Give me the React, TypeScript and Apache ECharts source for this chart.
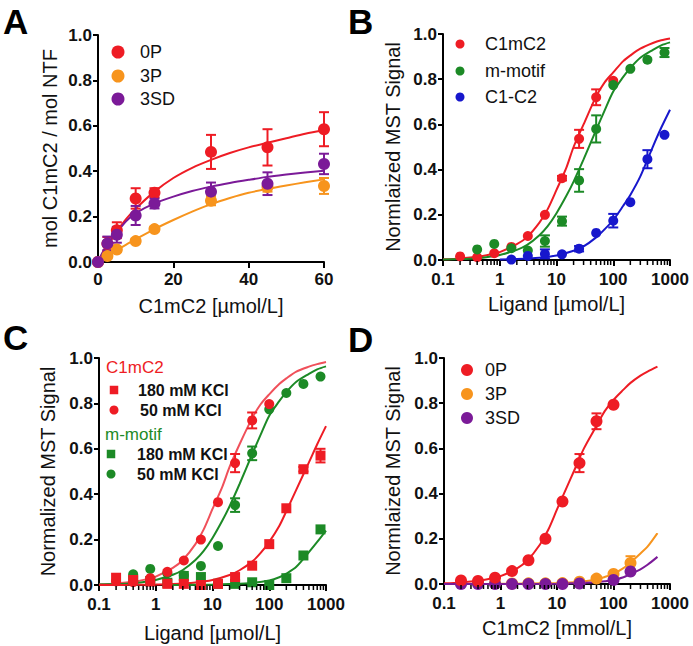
import React, { useEffect, useRef } from "react";
import * as echarts from "echarts";

// ---------- colours ----------
const RED = "#ee1c24";
const RED_LIGHT = "#f0505a";
const ORANGE = "#f7941d";
const PURPLE = "#7b1a98";
const GREEN = "#1c8a26";
const BLUE = "#1717cc";
const FONT = "Liberation Sans, Arial, Helvetica, sans-serif";

// ---------- panel A ----------
const aConc = [0, 2.5, 5, 10, 15, 30, 45, 60];
const a0P = [0, 0.08, 0.14, 0.28, 0.305, 0.485, 0.505, 0.585];
const a0PErr = [0, 0.03, 0.035, 0.045, 0.02, 0.075, 0.08, 0.075];
const a3P = [0, 0.026, 0.055, 0.092, 0.145, 0.27, 0.33, 0.335];
const a3PErr = [0, 0.01, 0.01, 0.01, 0.01, 0.02, 0.02, 0.035];
const a3SD = [0, 0.082, 0.12, 0.205, 0.258, 0.31, 0.345, 0.432];
const a3SDErr = [0, 0.03, 0.035, 0.042, 0.022, 0.04, 0.05, 0.045];
const aFitX = [0, 1, 2.5, 5, 7.5, 10, 15, 20, 25, 30, 35, 40, 45, 50, 55, 60];
const aFit0P = [0, 0.03, 0.07, 0.135, 0.19, 0.235, 0.31, 0.37, 0.415, 0.45, 0.48, 0.505, 0.525, 0.545, 0.565, 0.58];
const aFit3P = [0, 0.011, 0.027, 0.052, 0.077, 0.1, 0.145, 0.185, 0.222, 0.255, 0.282, 0.305, 0.322, 0.337, 0.351, 0.364];
const aFit3SD = [0, 0.035, 0.08, 0.13, 0.18, 0.215, 0.258, 0.288, 0.313, 0.332, 0.348, 0.362, 0.375, 0.385, 0.394, 0.402];

// ---------- two-fold dilution series (µmol/L) ----------
const dilution = [0.2, 0.4, 0.8, 1.6, 3.125, 6.25, 12.5, 25, 50, 100, 200, 400, 800];

// ---------- panel B ----------
const bRedX = dilution.slice(0, 10);
const bRed = [0.016, 0.012, 0.03, 0.058, 0.106, 0.2, 0.362, 0.536, 0.72, 0.793];
const bRedErr = [0, 0, 0, 0, 0, 0, 0.01, 0.04, 0.035, 0];
const bGreenX = dilution.slice(1);
const bGreen = [0.047, 0.071, 0.052, 0.042, 0.084, 0.172, 0.352, 0.58, 0.774, 0.846, 0.886, 0.918];
const bGreenErr = [0, 0, 0, 0, 0.025, 0.02, 0.05, 0.06, 0, 0, 0, 0.02];
const bBlueX = dilution.slice(3);
const bBlue = [0.002, 0.018, 0.027, 0.025, 0.05, 0.12, 0.174, 0.256, 0.446, 0.554];
const bBlueErr = [0, 0, 0.02, 0, 0.012, 0, 0.03, 0, 0.04, 0];
const bFitX = [0.1, 0.2, 0.3, 0.5, 0.7, 1, 2, 3, 5, 7, 10, 15, 20, 30, 50, 70, 100, 150, 200, 300, 500, 700, 1000];
const bFitRed = [0.003, 0.007, 0.011, 0.018, 0.025, 0.035, 0.07, 0.1, 0.165, 0.225, 0.31, 0.41, 0.5, 0.6, 0.724, 0.785, 0.83, 0.88, 0.905, 0.935, 0.96, 0.972, 0.98];
const bFitGreen = [0.002, 0.004, 0.006, 0.01, 0.015, 0.022, 0.045, 0.066, 0.11, 0.15, 0.207, 0.285, 0.347, 0.445, 0.576, 0.66, 0.746, 0.81, 0.85, 0.895, 0.93, 0.95, 0.963];
const bFitBlueX = [1, 2, 5, 10, 20, 30, 50, 70, 100, 150, 200, 300, 500, 700, 1000];
const bFitBlue = [0.002, 0.004, 0.01, 0.02, 0.041, 0.06, 0.1, 0.135, 0.177, 0.24, 0.288, 0.37, 0.502, 0.585, 0.665];

// ---------- panel C ----------
const cRed180X = dilution;
const cRed180 = [0.032, 0.022, 0.015, 0.005, 0.005, 0.0, 0.005, 0.035, 0.085, 0.18, 0.338, 0.51, 0.57];
const cRed180Err = [0, 0, 0, 0, 0, 0, 0, 0, 0, 0, 0, 0.01, 0.03];
const cRed50X = dilution.slice(0, 10);
const cRed50 = [0.016, 0.012, 0.03, 0.058, 0.108, 0.2, 0.365, 0.537, 0.725, 0.797];
const cRed50Err = [0, 0, 0, 0, 0, 0, 0, 0.04, 0.035, 0];
const cGreen180X = dilution.slice(1);
const cGreen180 = [0.02, 0.018, 0.01, 0.04, 0.035, 0.005, 0.005, 0.012, 0.0, 0.03, 0.13, 0.245];
const cGreen50X = dilution.slice(1);
const cGreen50 = [0.047, 0.071, 0.052, 0.042, 0.084, 0.172, 0.352, 0.58, 0.774, 0.846, 0.886, 0.918];
const cGreen50Err = [0, 0, 0, 0, 0, 0, 0.03, 0.03, 0, 0, 0, 0];
const cFit50Red = [0.003, 0.007, 0.011, 0.018, 0.026, 0.037, 0.075, 0.11, 0.18, 0.245, 0.335, 0.435, 0.52, 0.62, 0.735, 0.795, 0.84, 0.885, 0.91, 0.94, 0.962, 0.973, 0.982];
const cFit50Green = [0.002, 0.004, 0.006, 0.01, 0.015, 0.022, 0.045, 0.066, 0.11, 0.15, 0.207, 0.285, 0.347, 0.445, 0.576, 0.66, 0.746, 0.81, 0.85, 0.895, 0.93, 0.95, 0.963];
const cFit180RedX = [0.1, 0.5, 1, 2, 5, 10, 20, 30, 50, 70, 100, 150, 200, 300, 500, 700, 1000];
const cFit180Red = [0, 0.001, 0.002, 0.004, 0.011, 0.022, 0.044, 0.065, 0.103, 0.14, 0.19, 0.26, 0.325, 0.42, 0.54, 0.62, 0.7];
const cFit180GreenX = [2, 5, 10, 20, 50, 100, 150, 200, 300, 500, 700, 1000];
const cFit180Green = [0, 0.001, 0.002, 0.004, 0.009, 0.02, 0.034, 0.05, 0.08, 0.145, 0.19, 0.24];

// ---------- panel D ----------
const dRedX = dilution.slice(0, 10);
const dRed = [0.016, 0.013, 0.028, 0.057, 0.105, 0.2, 0.365, 0.535, 0.72, 0.793];
const dRedErr = [0, 0, 0, 0, 0, 0, 0, 0.04, 0.035, 0];
const d3PX = dilution.slice(0, 11);
const d3P = [0.004, 0.004, 0.003, 0.002, 0.003, 0.003, 0.004, 0.01, 0.024, 0.044, 0.093];
const d3PErr = [0, 0, 0, 0, 0, 0, 0, 0, 0, 0, 0.03];
const d3SDX = [0.2, 0.4, 0.8, 1.6, 3.125, 6.25, 12.5, 25, 100, 200];
const d3SD = [0, 0, 0, 0, 0, 0, 0, 0.002, 0.018, 0.055];
const dFitX = [0.1, 0.2, 0.3, 0.5, 0.7, 1, 2, 3, 5, 7, 10, 15, 20, 30, 50, 70, 100, 150, 200, 300, 400, 600];
const dFitRed = [0.003, 0.007, 0.011, 0.018, 0.025, 0.035, 0.07, 0.105, 0.175, 0.24, 0.33, 0.43, 0.5, 0.6, 0.7, 0.765, 0.815, 0.86, 0.89, 0.922, 0.94, 0.962];
const dFitLowX = [0.1, 1, 10, 20, 50, 70, 100, 150, 200, 300, 400, 600];
const dFit3P = [0, 0.001, 0.004, 0.008, 0.02, 0.031, 0.045, 0.07, 0.095, 0.135, 0.165, 0.225];
const dFit3SD = [0, 0, 0.001, 0.003, 0.008, 0.012, 0.018, 0.03, 0.045, 0.065, 0.085, 0.12];

// ---------- axis ticks ----------
const yTicks = [0, 0.2, 0.4, 0.6, 0.8, 1.0];
const minorLogTicks = [
  0.2, 0.3, 0.4, 0.5, 0.6, 0.7, 0.8, 0.9,
  2, 3, 4, 5, 6, 7, 8, 9,
  20, 30, 40, 50, 60, 70, 80, 90,
  200, 300, 400, 500, 600, 700, 800, 900,
];

// ---------- helpers ----------
const pairs = (xs: number[], ys: number[]) => ys.map((y, i) => [xs[i], y]);
const errTriples = (xs: number[], ys: number[], es: number[]) =>
  ys.map((y, i) => [xs[i], y, es[i]]).filter((d) => d[2] > 0);

function scatter(gi: number, xs: number[], ys: number[], color: string, symbol: string, size: number, z = 5) {
  return {
    type: "scatter",
    xAxisIndex: gi,
    yAxisIndex: gi,
    data: pairs(xs, ys),
    symbol,
    symbolSize: size,
    itemStyle: { color, opacity: 1 },
    silent: true,
    z,
  };
}

function errorBars(gi: number, xs: number[], ys: number[], es: number[], color: string, z = 4) {
  return {
    type: "custom",
    xAxisIndex: gi,
    yAxisIndex: gi,
    data: errTriples(xs, ys, es),
    encode: { x: 0, y: 1 },
    silent: true,
    z,
    renderItem: (_p: any, api: any) => {
      const x = api.value(0);
      const y = api.value(1);
      const e = api.value(2);
      const top = api.coord([x, y + e]);
      const bot = api.coord([x, Math.max(0, y - e)]);
      const cap = 5;
      const st = { stroke: color, lineWidth: 2 };
      return {
        type: "group",
        children: [
          { type: "line", shape: { x1: top[0], y1: top[1], x2: bot[0], y2: bot[1] }, style: st },
          { type: "line", shape: { x1: top[0] - cap, y1: top[1], x2: top[0] + cap, y2: top[1] }, style: st },
          { type: "line", shape: { x1: bot[0] - cap, y1: bot[1], x2: bot[0] + cap, y2: bot[1] }, style: st },
        ],
      };
    },
  };
}

function curve(gi: number, xs: number[], ys: number[], color: string, z = 3) {
  return {
    type: "line",
    xAxisIndex: gi,
    yAxisIndex: gi,
    data: pairs(xs, ys),
    smooth: 0.3,
    showSymbol: false,
    symbol: "none",
    lineStyle: { color, width: 2 },
    silent: true,
    z,
  };
}

function minorTicks(gi: number) {
  return {
    type: "custom",
    xAxisIndex: gi,
    yAxisIndex: gi,
    data: minorLogTicks.map((v) => [v, 0]),
    encode: { x: 0, y: 1 },
    silent: true,
    clip: false,
    z: 6,
    renderItem: (_p: any, api: any) => {
      const c = api.coord([api.value(0), 0]);
      return {
        type: "line",
        shape: { x1: c[0], y1: c[1] + 1, x2: c[0], y2: c[1] + 5 },
        style: { stroke: "#000", lineWidth: 1.5 },
      };
    },
  };
}

const axisLine = { lineStyle: { color: "#000", width: 2 } };
const axisTick = { length: 6, lineStyle: { color: "#000", width: 2 } };
const tickLabel = (margin: number) => ({
  color: "#111",
  fontWeight: "bold",
  fontSize: 17,
  fontFamily: FONT,
  margin,
});
const nameStyle = { color: "#111", fontSize: 20, fontFamily: FONT };

function logX(gi: number, name: string, gap: number) {
  return {
    gridIndex: gi,
    type: "log",
    logBase: 10,
    min: 0.1,
    max: 1000,
    axisLine,
    axisTick,
    splitLine: { show: false },
    axisLabel: { ...tickLabel(11), formatter: (v: number) => String(+Number(v).toPrecision(4)) },
    name,
    nameLocation: "middle",
    nameGap: gap,
    nameTextStyle: nameStyle,
  };
}

function valY(gi: number, name: string, gap: number) {
  return {
    gridIndex: gi,
    type: "value",
    min: yTicks[0],
    max: yTicks[yTicks.length - 1],
    interval: 0.2,
    axisLine,
    axisTick: { ...axisTick, length: 5 },
    splitLine: { show: false },
    axisLabel: { ...tickLabel(6), formatter: (v: number) => v.toFixed(1) },
    name,
    nameLocation: "middle",
    nameGap: gap,
    nameTextStyle: nameStyle,
  };
}

// ---------- legends & panel letters (graphic) ----------
const letter = (t: string, x: number, y: number) => ({
  type: "text",
  left: x,
  top: y,
  style: { text: t, fontSize: 35, fontWeight: "bold", fontFamily: FONT, fill: "#000" },
});
const legCircle = (x: number, y: number, r: number, color: string) => ({
  type: "circle",
  shape: { cx: x, cy: y, r },
  style: { fill: color },
});
const legRect = (x: number, y: number, s: number, color: string) => ({
  type: "rect",
  shape: { x: x - s / 2, y: y - s / 2, width: s, height: s },
  style: { fill: color },
});
const legText = (t: string, x: number, y: number, size = 18, weight = "normal", color = "#111") => ({
  type: "text",
  x,
  y,
  style: { text: t, fontSize: size, fontWeight: weight, fontFamily: FONT, fill: color, verticalAlign: "middle", align: "left" },
});

const graphic = [
  letter("A", 3, 4),
  letter("B", 348, 4),
  letter("C", 3, 320),
  letter("D", 348, 322),
  // A legend
  legCircle(118, 52, 6.5, RED), legText("0P", 140, 52),
  legCircle(118, 76, 6.5, ORANGE), legText("3P", 140, 76),
  legCircle(118, 99, 6.5, PURPLE), legText("3SD", 140, 99),
  // B legend
  legCircle(460, 44, 4.5, RED), legText("C1mC2", 485, 44),
  legCircle(460, 71, 4.5, GREEN), legText("m-motif", 485, 71),
  legCircle(460, 97, 4.5, BLUE), legText("C1-C2", 485, 97),
  // C legend
  legText("C1mC2", 106, 367, 17, "normal", RED),
  legRect(114, 390, 8.5, RED), legText("180 mM KCl", 138, 390, 16, "bold"),
  legCircle(114, 410, 4.5, RED), legText("50 mM KCl", 140, 410, 16, "bold"),
  legText("m-motif", 105, 434, 17, "normal", GREEN),
  legRect(111, 454, 8.5, GREEN), legText("180 mM KCl", 137, 454, 16, "bold"),
  legCircle(111, 474, 4.5, GREEN), legText("50 mM KCl", 137, 474, 16, "bold"),
  // D legend
  legCircle(467, 370, 6, RED), legText("0P", 485, 370),
  legCircle(467, 394, 6, ORANGE), legText("3P", 485, 394),
  legCircle(467, 418, 6, PURPLE), legText("3SD", 485, 418),
];

const option: any = {
  animation: false,
  backgroundColor: "#fff",
  textStyle: { fontFamily: FONT },
  grid: [
    { left: 98, top: 35, width: 226, height: 227 },
    { left: 443, top: 34, width: 227, height: 226 },
    { left: 99, top: 358, width: 227, height: 227 },
    { left: 444, top: 358, width: 226, height: 226 },
  ],
  xAxis: [
    {
      gridIndex: 0,
      type: "value",
      min: 0,
      max: 60,
      interval: 20,
      axisLine,
      axisTick,
      splitLine: { show: false },
      axisLabel: tickLabel(9),
      name: "C1mC2 [µmol/L]",
      nameLocation: "middle",
      nameGap: 34,
      nameTextStyle: nameStyle,
    },
    logX(1, "Ligand [µmol/L]", 34),
    logX(2, "Ligand [µmol/L]", 38),
    logX(3, "C1mC2 [mmol/L]", 34),
  ],
  yAxis: [
    valY(0, "mol C1mC2 / mol NTF", 38),
    valY(1, "Normlaized MST Signal", 40),
    valY(2, "Normalized MST Signal", 41),
    valY(3, "Normlaized MST Signal", 41),
  ],
  graphic,
  series: [
    // ---- A ----
    curve(0, aFitX, aFit0P, RED),
    curve(0, aFitX, aFit3P, ORANGE),
    curve(0, aFitX, aFit3SD, PURPLE),
    errorBars(0, aConc, a0P, a0PErr, RED),
    errorBars(0, aConc, a3P, a3PErr, ORANGE),
    errorBars(0, aConc, a3SD, a3SDErr, PURPLE),
    scatter(0, aConc, a0P, RED, "circle", 12),
    scatter(0, aConc, a3P, ORANGE, "circle", 12),
    scatter(0, aConc, a3SD, PURPLE, "circle", 12),
    // ---- B ----
    minorTicks(1),
    curve(1, bFitX, bFitRed, RED),
    curve(1, bFitX, bFitGreen, GREEN),
    curve(1, bFitBlueX, bFitBlue, BLUE),
    errorBars(1, bRedX, bRed, bRedErr, RED),
    errorBars(1, bGreenX, bGreen, bGreenErr, GREEN),
    errorBars(1, bBlueX, bBlue, bBlueErr, BLUE),
    scatter(1, bRedX, bRed, RED, "circle", 10),
    scatter(1, bGreenX, bGreen, GREEN, "circle", 10),
    scatter(1, bBlueX, bBlue, BLUE, "circle", 10),
    // ---- C ----
    minorTicks(2),
    curve(2, bFitX, cFit50Red, RED_LIGHT),
    curve(2, bFitX, cFit50Green, GREEN),
    curve(2, cFit180RedX, cFit180Red, RED),
    curve(2, cFit180GreenX, cFit180Green, GREEN),
    errorBars(2, cRed50X, cRed50, cRed50Err, RED),
    errorBars(2, cGreen50X, cGreen50, cGreen50Err, GREEN),
    errorBars(2, cRed180X, cRed180, cRed180Err, RED),
    scatter(2, cGreen50X, cGreen50, GREEN, "circle", 10),
    scatter(2, cGreen180X, cGreen180, GREEN, "rect", 10),
    scatter(2, cRed50X, cRed50, RED, "circle", 10),
    scatter(2, cRed180X, cRed180, RED, "rect", 10),
    // ---- D ----
    minorTicks(3),
    curve(3, dFitX, dFitRed, RED),
    curve(3, dFitLowX, dFit3P, ORANGE),
    curve(3, dFitLowX, dFit3SD, PURPLE),
    errorBars(3, dRedX, dRed, dRedErr, RED),
    errorBars(3, d3PX, d3P, d3PErr, ORANGE),
    scatter(3, d3PX, d3P, ORANGE, "circle", 12),
    scatter(3, d3SDX, d3SD, PURPLE, "circle", 12),
    scatter(3, dRedX, dRed, RED, "circle", 12),
  ],
};

export default function App() {
  const ref = useRef<HTMLDivElement>(null);
  useEffect(() => {
    if (!ref.current) return;
    const chart = echarts.init(ref.current, null, { renderer: "svg" });
    chart.setOption(option);
    return () => chart.dispose();
  }, []);
  return (
    <div
      ref={ref}
      style={{ position: "absolute", left: 0, top: 0, width: 693, height: 646, background: "#fff" }}
    />
  );
}
